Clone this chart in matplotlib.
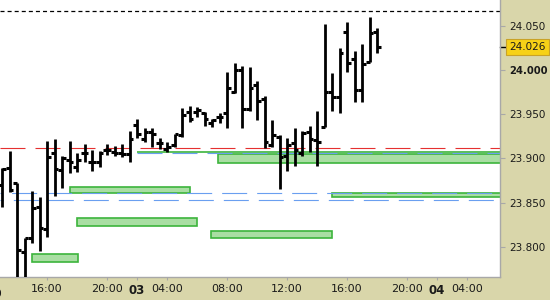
import numpy as np
import matplotlib
matplotlib.use("Agg")
from matplotlib import pyplot as plt
from matplotlib.patches import Rectangle
from matplotlib.transforms import blended_transform_factory

plt.rcParams['lines.scale_dashes'] = False
plt.rcParams['font.family'] = 'DejaVu Sans'

# 30 minute OHLC bars
opens = [23.870, 23.889, 23.872, 23.794, 23.810, 23.845, 23.820, 23.906, 23.887, 23.898,
         23.890, 23.906, 23.896, 23.896, 23.910, 23.907, 23.906, 23.905, 23.938, 23.922,
         23.930, 23.918, 23.911, 23.915, 23.926, 23.953, 23.953, 23.952, 23.940, 23.947,
         23.952, 23.975, 24.000, 23.956, 23.983, 23.967, 23.915, 23.924, 23.903, 23.918,
         23.906, 23.930, 23.921, 23.936, 23.975, 23.970, 24.043, 24.013, 23.978, 24.009, 24.043]
highs = [23.889, 23.909, 23.872, 23.810, 23.863, 23.856, 23.920, 23.922, 23.903, 23.920,
         23.906, 23.916, 23.910, 23.908, 23.916, 23.914, 23.916, 23.931, 23.945, 23.935,
         23.935, 23.923, 23.919, 23.928, 23.957, 23.959, 23.958, 23.953, 23.945, 23.952,
         23.998, 24.008, 24.005, 24.004, 23.988, 23.971, 23.943, 23.926, 23.923, 23.935,
         23.931, 23.937, 23.954, 24.052, 23.997, 24.025, 24.055, 24.022, 24.030, 24.060, 24.048]
lows = [23.845, 23.862, 23.764, 23.764, 23.804, 23.795, 23.811, 23.858, 23.867, 23.884,
        23.885, 23.896, 23.886, 23.890, 23.904, 23.903, 23.902, 23.896, 23.923, 23.919,
        23.913, 23.911, 23.907, 23.913, 23.924, 23.941, 23.947, 23.937, 23.936, 23.940,
        23.935, 23.974, 23.935, 23.954, 23.943, 23.912, 23.913, 23.865, 23.886, 23.892,
        23.903, 23.907, 23.892, 23.936, 23.954, 23.952, 23.998, 23.964, 23.964, 24.009, 24.020]
closes = [23.888, 23.864, 23.796, 23.810, 23.844, 23.821, 23.902, 23.888, 23.901, 23.896,
          23.898, 23.906, 23.896, 23.906, 23.910, 23.906, 23.905, 23.922, 23.928, 23.930,
          23.928, 23.918, 23.913, 23.928, 23.949, 23.945, 23.955, 23.945, 23.944, 23.947,
          23.980, 24.000, 23.956, 23.980, 23.965, 23.919, 23.927, 23.902, 23.915, 23.910,
          23.929, 23.922, 23.919, 23.975, 23.970, 24.020, 24.008, 23.978, 24.007, 24.042, 24.026]

# zones: (start bar, end bar or None = to the right edge, top, bottom)
zones = [(4.0, 10.1, 23.7915, 23.7824),
         (9.1, 25.1, 23.8673, 23.8605),
         (10.0, 26.0, 23.8322, 23.8232),
         (27.9, 44.0, 23.8182, 23.8103),
         (28.8, None, 23.9051, 23.8952),
         (44.0, None, 23.8613, 23.8560),
         (18.0, None, 23.9070, 23.9068)]

high_line = 24.067
red_line = 23.912
blue_lines = [23.8606, 23.8527]
blue_short = (18.0, 23.9057)

price_ticks = [23.800, 23.850, 23.900, 23.950, 24.000, 24.050]
price_labels = ["23.800", "23.850", "23.900", "23.950", "24.000", "24.050"]
time_ticks = [6, 14, 18, 22, 30, 38, 46, 54, 58, 62]
time_labels = ["16:00", "20:00", "03", "04:00", "08:00", "12:00", "16:00", "20:00", "04", "04:00"]

X_MIN, X_MAX = -0.27, 66.4
Y_MIN, Y_MAX = 23.7657, 24.0795

fig = plt.figure(figsize=(5.5, 3), dpi=100, facecolor='#d9d6aa')
ax = fig.add_axes([0, 23/300, 500/550, 277/300])
ax.set_facecolor('white')
ax.set_xlim(X_MIN, X_MAX)
ax.set_ylim(Y_MIN, Y_MAX)

# zones
for x0, x1, top, bot in zones:
    if x1 is None:
        x1 = X_MAX + 1
    ax.add_patch(Rectangle((x0, bot), x1 - x0, top - bot, facecolor='#a9dea3',
                           edgecolor='#3cb43c', lw=1.2, zorder=1))

# level lines
ax.axhline(high_line, color='black', lw=0.9, ls=(0, (2.9, 2.2)), zorder=2)
ax.axhline(red_line, color='#e53030', lw=0.8, ls=(0, (18, 7.2)), zorder=2)
ax.axhline(blue_lines[0], color='#6a9ff0', lw=0.8, ls=(16.8, (18, 7.2)), zorder=2)
ax.axhline(blue_lines[1], color='#6a9ff0', lw=0.8, ls=(15.6, (18, 7.2)), zorder=2)
ax.plot([blue_short[0], X_MAX], [blue_short[1]] * 2, color='#6a9ff0', lw=0.8,
        ls=(0, (18, 7.2)), zorder=2)

# OHLC bars
x = np.arange(len(opens))
ax.vlines(x, lows, highs, color='black', lw=2.0, zorder=3)
ax.hlines(opens, x - 0.5, x, color='black', lw=2.2, zorder=3)
ax.hlines(closes, x, x + 0.5, color='black', lw=2.2, zorder=3)

for s in ['top', 'left']:
    ax.spines[s].set_visible(False)
for s in ['right', 'bottom']:
    ax.spines[s].set_color('#a8a8a8')
    ax.spines[s].set_linewidth(1)

ax.yaxis.tick_right()
ax.set_yticks(price_ticks)
ax.set_yticklabels(price_labels)
ax.set_xticks(time_ticks)
ax.set_xticklabels(time_labels)
ax.tick_params(axis='y', colors='#a8a8a8', labelcolor='#1a1a1a', length=3.6, pad=2.8,
               labelsize=7.5)
ax.tick_params(axis='x', colors='#a8a8a8', labelcolor='#1a1a1a', length=2.2, pad=2.5,
               labelsize=8)
for lab in ax.get_yticklabels():
    if lab.get_text() == "24.000":
        lab.set_fontweight('bold')
        lab.set_fontsize(7.2)
for lab in ax.get_xticklabels():
    if lab.get_text() in ("03", "04"):
        lab.set_fontweight('bold')
        lab.set_fontsize(8.5)

# partly hidden label at the left edge
ax.text(-2, -0.06, "12:00", transform=blended_transform_factory(ax.transData, ax.transAxes),
        ha='center', va='center', fontsize=8, color='#1a1a1a', clip_on=False)

# last price marker
bt = blended_transform_factory(ax.transAxes, ax.transData)
ax.plot([1.0, 1.01], [closes[-1]] * 2, color='black', lw=1, transform=bt, clip_on=False)
ax.text(1.018, closes[-1], "24.026", transform=bt, ha='left', va='center', fontsize=7.5,
        color='#1a1a1a', clip_on=False,
        bbox=dict(boxstyle='square,pad=0.3', facecolor='#f7d117', edgecolor='#c9a227', lw=0.8))

fig.savefig("out.png", dpi=100, facecolor=fig.get_facecolor())
